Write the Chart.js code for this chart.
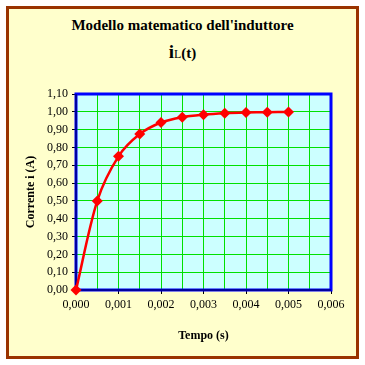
<!DOCTYPE html>
<html>
<head>
<meta charset="utf-8">
<script src="https://cdn.jsdelivr.net/npm/chart.js@4"></script>
<style>
  html, body { margin: 0; padding: 0; background: #fff; }
  #wrap { position: relative; width: 365px; height: 365px; }
  #frame { position: absolute; left: 6px; top: 6px; width: 347px; height: 347px; border: 3px solid #993300; background: #ffffcc; }
  .ttl { position: absolute; left: 0; width: 365px; text-align: center; font-family: "Liberation Serif", serif; font-weight: bold; color: #000; white-space: nowrap; }
  #t1 { top: 17px; font-size: 15px; }
  #t2 { top: 41px; font-size: 15px; }
  #t2 .i { font-size: 19px; }
  #t2 .l { font-size: 12px; font-weight: normal; }
  canvas { position: absolute; left: 0; top: 0; }
</style>
</head>
<body>
<div id="wrap">
  <div id="frame"></div>
  <div class="ttl" id="t1">Modello matematico dell'induttore</div>
  <div class="ttl" id="t2"><span class="i">i</span><span class="l">L</span>(t)</div>
  <canvas id="c" width="365" height="365"></canvas>
</div>
<script>
  var tempo = [0, 0.0005, 0.001, 0.0015, 0.002, 0.0025, 0.003, 0.0035, 0.004, 0.0045, 0.005];
  var corrente = [0, 0.50, 0.75, 0.875, 0.94, 0.97, 0.984, 0.992, 0.996, 0.998, 0.999];
  var xTitle = 'Tempo (s)';
  var yTitle = 'Corrente i (A)';

  var plotFrame = {
    id: 'plotFrame',
    beforeDraw: function (chart) {
      var a = chart.chartArea, ctx = chart.ctx;
      ctx.save();
      ctx.fillStyle = '#ccffff';
      ctx.fillRect(a.left, a.top, a.right - a.left, a.bottom - a.top);
      ctx.restore();
    },
    beforeDatasetsDraw: function (chart) {
      var a = chart.chartArea, ctx = chart.ctx;
      ctx.save();
      ctx.strokeStyle = '#0000ff';
      ctx.lineWidth = 3;
      ctx.strokeRect(a.left, a.top, a.right - a.left, a.bottom - a.top);
      ctx.strokeStyle = '#000040';
      ctx.lineWidth = 1;
      ctx.beginPath();
      ctx.moveTo(a.left, a.top);
      ctx.lineTo(a.left, a.bottom);
      ctx.lineTo(a.right, a.bottom);
      ctx.stroke();
      ctx.restore();
    }
  };

  function isMajor(v) { return Math.round(v / 0.0005) % 2 === 0; }

  new Chart(document.getElementById('c'), {
    type: 'scatter',
    data: {
      datasets: [{
        data: tempo.map(function (t, i) { return { x: t, y: corrente[i] }; }),
        showLine: true,
        borderColor: '#ff0000',
        backgroundColor: '#ff0000',
        borderWidth: 2.5,
        tension: 0.3,
        pointStyle: 'rectRot',
        pointRadius: 5.5,
        pointBorderWidth: 0,
        clip: false
      }]
    },
    options: {
      responsive: false,
      animation: false,
      events: [],
      layout: { padding: { left: 24, right: 34, top: 94, bottom: 22 } },
      plugins: { legend: { display: false }, tooltip: { enabled: false } },
      scales: {
        x: {
          type: 'linear', min: 0, max: 0.006,
          afterFit: function (s) { s.height = 53; },
          border: { display: false },
          grid: {
            color: '#00e000', lineWidth: 1, drawTicks: true, tickLength: 4,
            tickColor: function (c) { return isMajor(c.tick.value) ? '#000000' : 'rgba(0,0,0,0)'; }
          },
          ticks: {
            stepSize: 0.0005, autoSkip: false, maxRotation: 0, padding: 4, color: '#000',
            font: { family: 'Liberation Serif', size: 12 },
            callback: function (v) { return isMajor(v) ? v.toFixed(3).replace('.', ',') : ''; }
          },
          title: { display: true, text: xTitle, color: '#000', padding: { top: 6, bottom: 0 },
            font: { family: 'Liberation Serif', size: 12, weight: 'bold' } }
        },
        y: {
          type: 'linear', min: 0, max: 1.1,
          afterFit: function (s) { s.width = 52; },
          border: { display: false },
          grid: { color: '#00e000', lineWidth: 1, tickLength: 4, tickColor: '#000000' },
          ticks: {
            stepSize: 0.1, autoSkip: false, padding: 4, color: '#000',
            font: { family: 'Liberation Serif', size: 12 },
            callback: function (v) { return v.toFixed(2).replace('.', ','); }
          },
          title: { display: true, text: yTitle, color: '#000', padding: { top: 0, bottom: 2 },
            font: { family: 'Liberation Serif', size: 12, weight: 'bold' } }
        }
      }
    },
    plugins: [plotFrame]
  });
</script>
</body>
</html>
